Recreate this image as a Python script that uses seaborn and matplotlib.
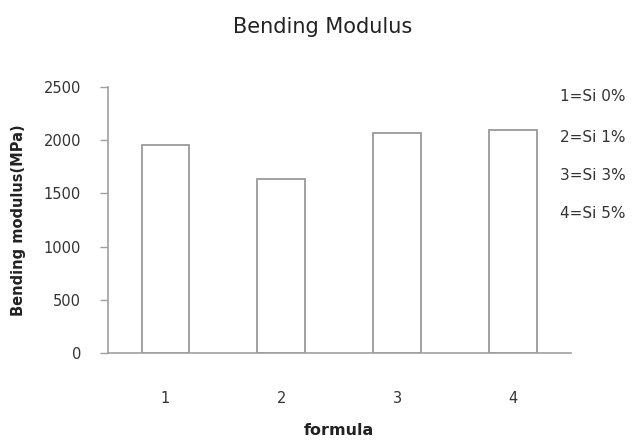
import matplotlib
matplotlib.use("Agg")
import matplotlib.pyplot as plt
import seaborn as sns
import pandas as pd

categories = ["1", "2", "3", "4"]
values = [1955, 1630, 2070, 2095]
notes = ["1=Si 0%", "2=Si 1%", "3=Si 3%", "4=Si 5%"]
yticks = [0, 500, 1000, 1500, 2000, 2500]

sns.set_theme(style="white")
plt.rcParams["font.family"] = ["DejaVu Sans"]

W, H = 635, 444
fig = plt.figure(figsize=(W / 100, H / 100), dpi=100)
ax = fig.add_axes([107.5 / W, 1 - 353.3 / H, (570.7 - 107.5) / W, (353.3 - 86.7) / H])

df = pd.DataFrame({"formula": categories, "value": values})
sns.barplot(data=df, x="formula", y="value", color="white", edgecolor="#9a9a9a",
            linewidth=1.3, width=0.41, saturation=1, ax=ax)

ax.set_ylim(0, 2500)
ax.set_yticks(yticks)
ax.set_yticklabels([str(t) for t in yticks], fontsize=10.5, color="#333333")
ax.set_xticklabels(categories, fontsize=10.5, color="#333333")
ax.tick_params(axis="y", which="major", length=6, width=1, color="#a0a0a0", left=True, pad=13)
ax.tick_params(axis="x", length=0, pad=27.5)

for s in ["top", "right"]:
    ax.spines[s].set_visible(False)
for s in ["left", "bottom"]:
    ax.spines[s].set_color("#a0a0a0")
    ax.spines[s].set_linewidth(1.2)

ax.set_xlabel("formula", fontsize=11.5, fontweight="bold", color="#222222", labelpad=12)
ax.set_ylabel("Bending modulus(MPa)", fontsize=10.5, fontweight="bold", color="#222222", labelpad=13)

fig.text(323 / W, 1 - 27 / H, "Bending Modulus", ha="center", va="center",
         fontsize=15, color="#222222")

ys = [101, 141.5, 179.5, 217.5]
for t, y in zip(notes, ys):
    fig.text(560 / W, 1 - y / H, t, ha="left", va="baseline", fontsize=11, color="#333333")

fig.savefig("out.png", dpi=100)
